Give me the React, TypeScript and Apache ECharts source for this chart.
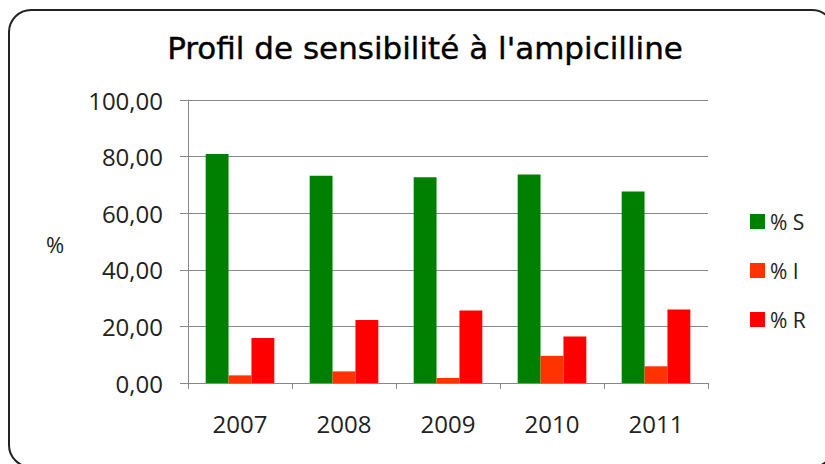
import React, { useEffect, useRef } from "react";
import * as echarts from "echarts";

const years = ["2007", "2008", "2009", "2010", "2011"];
const seriesS = [80.9, 73.2, 72.7, 73.7, 67.7];
const seriesI = [2.7, 4.1, 1.8, 9.6, 5.9];
const seriesR = [15.9, 22.3, 25.6, 16.4, 26.0];
const seriesNames = ["% S", "% I", "% R"];
const seriesColors = ["#008000", "#FF3300", "#FF0000"];
const titleText = "Profil de sensibilité à l'ampicilline";
const yAxisTitle = "%";

const labelFont = "'Open Sans', sans-serif";

export default function App() {
  const ref = useRef<HTMLDivElement>(null);
  useEffect(() => {
    if (!ref.current) return;
    const chart = echarts.init(ref.current, null, { renderer: "svg" });
    const data = [seriesS, seriesI, seriesR];
    chart.setOption({
      animation: false,
      backgroundColor: "#ffffff",
      grid: { left: 188, right: 117, top: 100, bottom: 81, containLabel: false },
      legend: {
        orient: "vertical",
        left: 750,
        top: 211,
        padding: 0,
        itemWidth: 15,
        itemHeight: 15,
        itemGap: 28,
        icon: "rect",
        textStyle: { fontFamily: labelFont, fontSize: 21, lineHeight: 15, color: "#222" },
        data: seriesNames,
      },
      xAxis: {
        type: "category",
        data: years,
        axisLine: { lineStyle: { color: "#888", width: 1 } },
        axisTick: { show: true, length: 6, lineStyle: { color: "#888" } },
        axisLabel: { fontFamily: labelFont, fontSize: 24, color: "#222", margin: 28 },
      },
      yAxis: {
        type: "value",
        min: 0,
        max: 100,
        interval: 20,
        axisLine: { show: true, lineStyle: { color: "#888", width: 1 } },
        axisTick: { show: true, length: 8, lineStyle: { color: "#888" } },
        splitLine: { lineStyle: { color: "#888", width: 1 } },
        axisLabel: {
          fontFamily: labelFont,
          fontSize: 24,
          color: "#222",
          margin: 25,
          formatter: (v: number) => v.toFixed(2).replace(".", ","),
        },
      },
      series: seriesNames.map((name, i) => ({
        name,
        type: "bar",
        data: data[i],
        itemStyle: { color: seriesColors[i] },
        barGap: "0%",
        barCategoryGap: "34%",
      })),
      graphic: [
        {
          type: "rect",
          shape: { x: 9, y: 10, width: 825, height: 457, r: 22 },
          style: { fill: "none", stroke: "#222", lineWidth: 2 },
          silent: true,
        },
        {
          type: "text",
          x: 425,
          y: 48,
          style: {
            text: titleText,
            font: "31px 'DejaVu Sans', sans-serif",
            fill: "#000",
            stroke: "#000",
            lineWidth: 0.4,
            textAlign: "center",
            textVerticalAlign: "middle",
          },
        },
        {
          type: "text",
          x: 55,
          y: 244,
          style: {
            text: yAxisTitle,
            font: "22px 'Open Sans', sans-serif",
            fill: "#222",
            textAlign: "center",
            textVerticalAlign: "middle",
          },
        },
      ],
    });
    return () => chart.dispose();
  }, []);
  return (
    <div
      ref={ref}
      style={{ position: "absolute", left: 0, top: 0, width: 825, height: 464, background: "#fff" }}
    />
  );
}
